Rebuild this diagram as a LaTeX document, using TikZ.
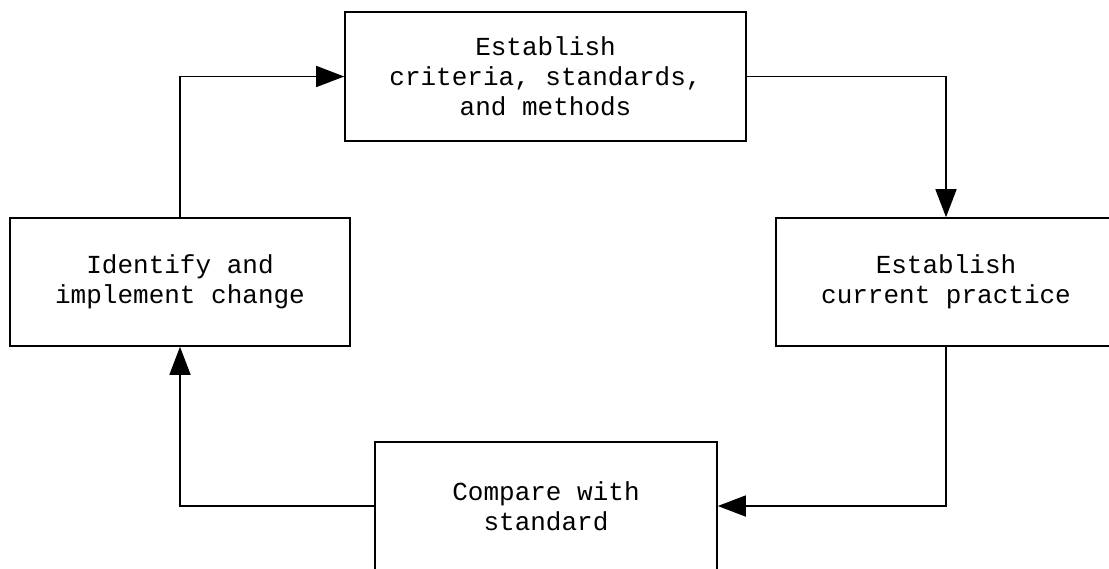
\documentclass[tikz,border=0pt]{standalone}
\usepackage{fontspec}
\setmonofont{Liberation Mono}
\usetikzlibrary{arrows.meta, positioning}

\tikzset{
    stagebox/.style={draw=black, line width=0.45pt, fill=white, align=center,
        inner sep=0pt, minimum height=1.28cm,
        font=\ttfamily\fontsize{7.4}{8.5}\selectfont},
    flow/.style={draw=black, line width=0.45pt,
        -{Triangle[length=0.28cm, width=0.21cm]}},
}

\begin{document}
\begin{tikzpicture}

% Frame
\useasboundingbox (0,0) rectangle (11.09,5.68);

% --- Boxes ---
\node[stagebox, minimum width=4.01cm, minimum height=1.29cm] (criteria) at (5.455, 4.915)
      {Establish\\criteria, standards,\\and methods};
\node[stagebox, minimum width=3.40cm] (practice) at (9.46, 2.86)
      {Establish\\current practice};
\node[stagebox, minimum width=3.42cm] (compare) at (5.46, 0.62)
      {Compare with\\standard};
\node[stagebox, minimum width=3.40cm] (change) at (1.80, 2.86)
      {Identify and\\implement change};

% --- Arrows ---
\draw[flow] (criteria.east) -| (practice.north);
\draw[flow] (practice.south) |- (compare.east);
\draw[flow] (compare.west) -| (change.south);
\draw[flow] (change.north) |- (criteria.west);

\end{tikzpicture}
\end{document}
